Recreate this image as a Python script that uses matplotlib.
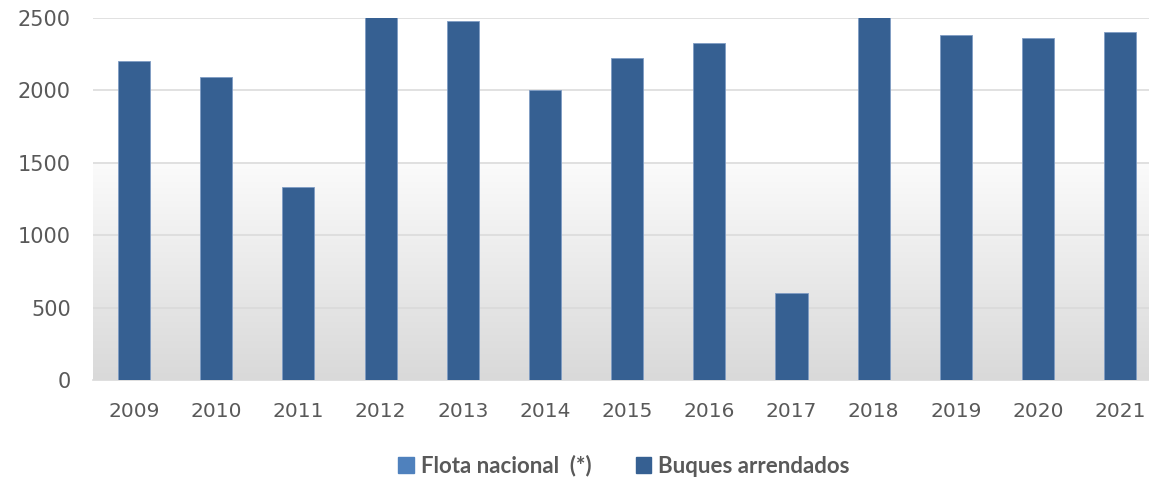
import numpy as np
import matplotlib
matplotlib.use("Agg")
import matplotlib.pyplot as plt
from matplotlib.patches import Patch

years = ["2009", "2010", "2011", "2012", "2013", "2014", "2015",
         "2016", "2017", "2018", "2019", "2020", "2021"]
# buques arrendados; 2012 and 2018 run off the top of the axis in the original
arrendados = [2203, 2093, 1333, 2650, 2479, 2003, 2224,
              2327, 601, 2650, 2383, 2361, 2404]
series_names = ["Flota nacional  (*)", "Buques arrendados"]
series_colors = ["#4f81bd", "#366092"]

fig = plt.figure(figsize=(11.49, 4.79), dpi=100)
ax = fig.add_axes([93 / 1149, 99 / 479, 1 - 93 / 1149, 362 / 479])

x = np.arange(len(years))
xmin, xmax = -0.5, 12.35

# grey gradient below the 1500 line
grad = np.linspace(0, 1, 256).reshape(-1, 1)
cmap = matplotlib.colors.LinearSegmentedColormap.from_list("bg", ["#d9d9d9", "#fbfbfb"])
ax.imshow(grad, cmap=cmap, aspect="auto", origin="lower",
          extent=[xmin, xmax, 0, 1500], zorder=0)

ax.bar(x, arrendados, width=0.39, color=series_colors[1],
       edgecolor="#7f9cc4", linewidth=0.6, zorder=3)

ax.set_xlim(xmin, xmax)
ax.set_ylim(0, 2500)
ax.set_yticks([0, 500, 1000, 1500, 2000, 2500])
ax.set_xticks(x)
ax.set_xticklabels(years)
ax.yaxis.grid(True, color="#d9d9d9", linewidth=1.1, zorder=1)
ax.set_axisbelow(True)

for s in ["top", "right", "left"]:
    ax.spines[s].set_visible(False)
ax.spines["bottom"].set_color("#d9d9d9")
ax.spines["bottom"].set_linewidth(1.2)
ax.tick_params(axis="both", length=0, labelcolor="#595959")
ax.tick_params(axis="y", pad=16, labelsize=15)
ax.tick_params(axis="x", pad=16, labelsize=14.5)

handles = [Patch(color=c, label=n) for c, n in zip(series_colors, series_names)]
fig.legend(handles=handles, loc="center", bbox_to_anchor=(624 / 1149, 13 / 479),
           ncol=2, frameon=False, handlelength=0.7, handleheight=0.7,
           handletextpad=0.3, columnspacing=2.0,
           prop={"family": "Lato", "weight": "bold", "size": 16})
for t in fig.legends[0].get_texts():
    t.set_color("#595959")

fig.savefig("out.png", dpi=100)
